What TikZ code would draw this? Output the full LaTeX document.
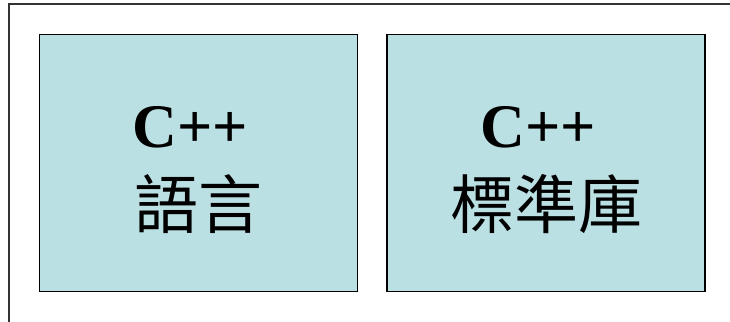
\documentclass[tikz,border=0pt]{standalone}
\usepackage{fontspec}
\setmainfont{Liberation Serif}
\newfontfamily\cjk{Noto Sans CJK TC}

\begin{document}
\begin{tikzpicture}[x=1pt,y=-1pt,
  part/.style={draw=black,line width=1.6pt,fill=libfill,minimum width=318pt,
    minimum height=257pt,align=center,inner sep=0pt},
  lead/.style={font=\fontsize{62}{79}\selectfont\bfseries},
  zh/.style={font=\fontsize{64}{79}\cjk}]
\definecolor{libfill}{HTML}{BBE0E3}
\useasboundingbox (0,0) rectangle (730,321);
\draw[line width=1.5pt,black!80] (9,325) -- (9,4) -- (735,4);
\node[part] (lang) at (198.5,163) {};
\node[part] (lib) at (546,163) {};
\node[lead] (langtop) at ([xshift=-8pt,yshift=36pt]lang.center) {C++};
\node[zh] (langbot) at ([yshift=-41pt]lang.center) {語言};
\node[lead] (libtop) at ([xshift=-8pt,yshift=36pt]lib.center) {C++};
\node[zh] (libbot) at ([yshift=-41pt]lib.center) {標準庫};
\end{tikzpicture}
\end{document}
